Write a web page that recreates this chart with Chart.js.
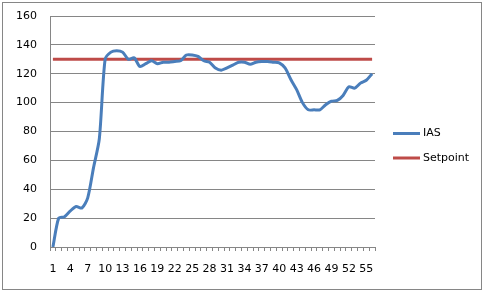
<!DOCTYPE html>
<html>
<head>
<meta charset="utf-8">
<script src="https://cdn.jsdelivr.net/npm/chart.js@4/dist/chart.umd.min.js"></script>
<style>
  html, body { margin: 0; padding: 0; background: #fff; }
  #wrap { position: absolute; left: 2px; top: 2px; width: 478px; height: 286px; border: 1px solid #868686; }
  canvas { display: block; }
</style>
</head>
<body>
<div id="wrap"><canvas id="c" width="478" height="286"></canvas></div>
<script>
const categories = [];
for (let i = 1; i <= 56; i++) categories.push(String(i));

const iasValues = [
  0, 20, 21, 25, 28, 27, 34, 55, 75, 130,
  135, 136, 135, 130, 131, 125, 127, 129, 127, 128,
  128, 128.5, 129, 133, 133, 132, 129, 128, 124, 122.5,
  124, 126, 128, 128, 126.5, 128, 128.5, 128.5, 128, 127.5,
  124, 116, 109, 100, 95, 95, 95, 98.5, 101, 101.5,
  105, 111, 110, 113.5, 115.5, 120
];
const setpointValues = categories.map(() => 130);
const yTicks = [0, 20, 40, 60, 80, 100, 120, 140, 160];

const FONT = { family: 'DejaVu Sans', size: 11 };

const legendPlugin = {
  id: 'sideLegend',
  afterDraw(chart) {
    const ctx = chart.ctx;
    const items = chart.data.datasets;
    const ys = [130.5, 155];
    ctx.save();
    items.forEach((ds, i) => {
      ctx.strokeStyle = ds.borderColor;
      ctx.lineWidth = 3;
      ctx.beginPath();
      ctx.moveTo(390, ys[i]);
      ctx.lineTo(417, ys[i]);
      ctx.stroke();
      ctx.fillStyle = '#000';
      ctx.font = FONT.size + 'px ' + FONT.family;
      ctx.textBaseline = 'middle';
      ctx.textAlign = 'left';
      ctx.fillText(ds.label, 420, ys[i]);
    });
    ctx.restore();
  }
};

new Chart(document.getElementById('c'), {
  type: 'line',
  data: {
    labels: categories,
    datasets: [
      { label: 'IAS', data: iasValues, borderColor: '#4A7EBB', borderWidth: 3, pointRadius: 0, tension: 0.25, fill: false },
      { label: 'Setpoint', data: setpointValues, borderColor: '#BE4B48', borderWidth: 3, pointRadius: 0, tension: 0, fill: false }
    ]
  },
  options: {
    responsive: false,
    animation: false,
    layout: { padding: { left: 0, top: 13, right: 106, bottom: 0 } },
    plugins: { legend: { display: false }, tooltip: { enabled: false } },
    scales: {
      x: {
        type: 'category',
        offset: true,
        grid: { offset: true, drawOnChartArea: false, drawTicks: true, tickLength: 4, color: '#868686' },
        border: { color: '#868686' },
        ticks: {
          autoSkip: false, maxRotation: 0, minRotation: 0, padding: 12,
          color: '#000', font: FONT,
          callback: function(v, i) { return (i % 3 === 0) ? categories[i] : ''; }
        },
        afterFit(scale) { scale.height = 42; scale.paddingLeft = 0; scale.paddingRight = 0; }
      },
      y: {
        min: 0, max: 160,
        afterBuildTicks(scale) { scale.ticks = yTicks.map(v => ({ value: v })); },
        grid: { color: '#868686', drawTicks: false },
        border: { color: '#868686' },
        ticks: { padding: 13, color: '#000', font: FONT },
        afterFit(scale) { scale.width = 47; scale.paddingTop = 0; scale.paddingBottom = 0; }
      }
    }
  },
  plugins: [legendPlugin]
});
</script>
</body>
</html>
